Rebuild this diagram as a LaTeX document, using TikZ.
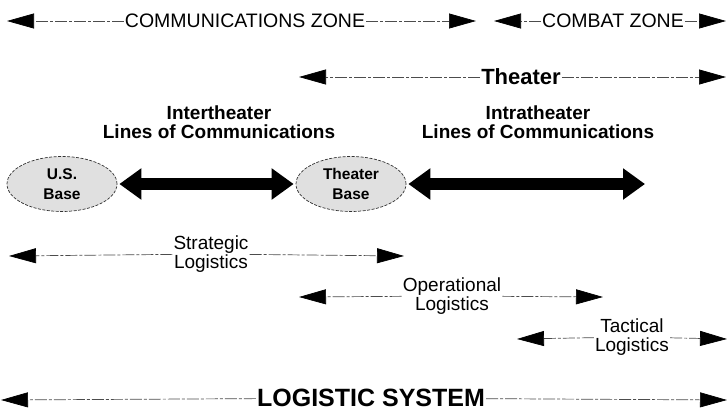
\documentclass[tikz,border=0pt]{standalone}
\usepackage{fontspec}
\setmainfont{Liberation Sans}
\usepackage{tikz}
\usetikzlibrary{positioning, arrows.meta, shapes.geometric}

\begin{document}
\begin{tikzpicture}[x=1pt, y=-1pt,
  zone/.style={font=\fontsize{19.5}{20}\selectfont, inner sep=1pt},
  lbl/.style={font=\fontsize{19}{19}\selectfont, align=center, inner sep=1pt},
  boldlbl/.style={font=\bfseries\fontsize{19}{19}\selectfont, align=center, inner sep=1pt},
  base/.style={ellipse, draw=black!80, line width=0.7pt, dash pattern=on 3pt off 1.5pt,
    fill=black!12, minimum width=110pt, minimum height=55pt, align=center,
    font=\bfseries\fontsize{15.5}{20}\selectfont, inner sep=0pt},
  span/.style={draw=black!70, line width=0.7pt, dash pattern=on 12pt off 2pt on 3pt off 2pt,
    -{Triangle[length=27pt,width=15pt,color=black]}},
  loc/.style={line width=12pt, {Triangle[length=22pt,width=30pt]}-{Triangle[length=22pt,width=30pt]},
    shorten <=2pt},
]
\useasboundingbox (0,0) rectangle (728,413);

% Zones
\node[zone] (comz) at (245,21) {COMMUNICATIONS ZONE};
\node[zone] (cbtz) at (613,21) {COMBAT ZONE};
\node[zone, font=\bfseries\fontsize{22}{23}\selectfont] (thtr) at (521,77) {Theater};
\coordinate (comzL) at (7,21);
\coordinate (comzR) at (476,21);
\coordinate (cbtzL) at (494,21);
\coordinate (cbtzR) at (726,21);
\coordinate (thtrL) at (299,77);
\coordinate (thtrR) at (726,77);

% Lines of communications
\node[boldlbl] (inter) at (219,122) {Intertheater\\Lines of Communications};
\node[boldlbl] (intra) at (538,122) {Intratheater\\Lines of Communications};
\node[base] (usb) at (62,184) {U.S.\\Base};
\node[base] (thb) at (351,184) {Theater\\Base};
\coordinate (intraend) at (645,184);

% Levels of logistics
\node[lbl] (strat) at (211,254) {Strategic\\Logistics};
\node[lbl] (oper) at (452,296) {Operational\\Logistics};
\node[lbl] (tact) at (632,337) {Tactical\\Logistics};
\node[zone, font=\bfseries\fontsize{25}{26}\selectfont] (logsys) at (371,398) {LOGISTIC SYSTEM};
\coordinate (stratL) at (9,256);
\coordinate (stratR) at (404,256);
\coordinate (operL) at (299,297);
\coordinate (operR) at (603,297);
\coordinate (tactL) at (517,339);
\coordinate (tactR) at (727,339);
\coordinate (logsysL) at (1,400);
\coordinate (logsysR) at (727,400);

% Arrows
\draw[span] (comz) -- (comzL);
\draw[span] (comz) -- (comzR);
\draw[span] (cbtz) -- (cbtzL);
\draw[span] (cbtz) -- (cbtzR);
\draw[span] (thtr) -- (thtrL);
\draw[span] (thtr) -- (thtrR);
\draw[loc, shorten >=2pt] (usb) -- (thb);
\draw[loc] (thb) -- (intraend);
\draw[span] (strat) -- (stratL);
\draw[span] (strat) -- (stratR);
\draw[span] (oper) -- (operL);
\draw[span] (oper) -- (operR);
\draw[span] (tact) -- (tactL);
\draw[span] (tact) -- (tactR);
\draw[span] (logsys) -- (logsysL);
\draw[span] (logsys) -- (logsysR);

\end{tikzpicture}
\end{document}
